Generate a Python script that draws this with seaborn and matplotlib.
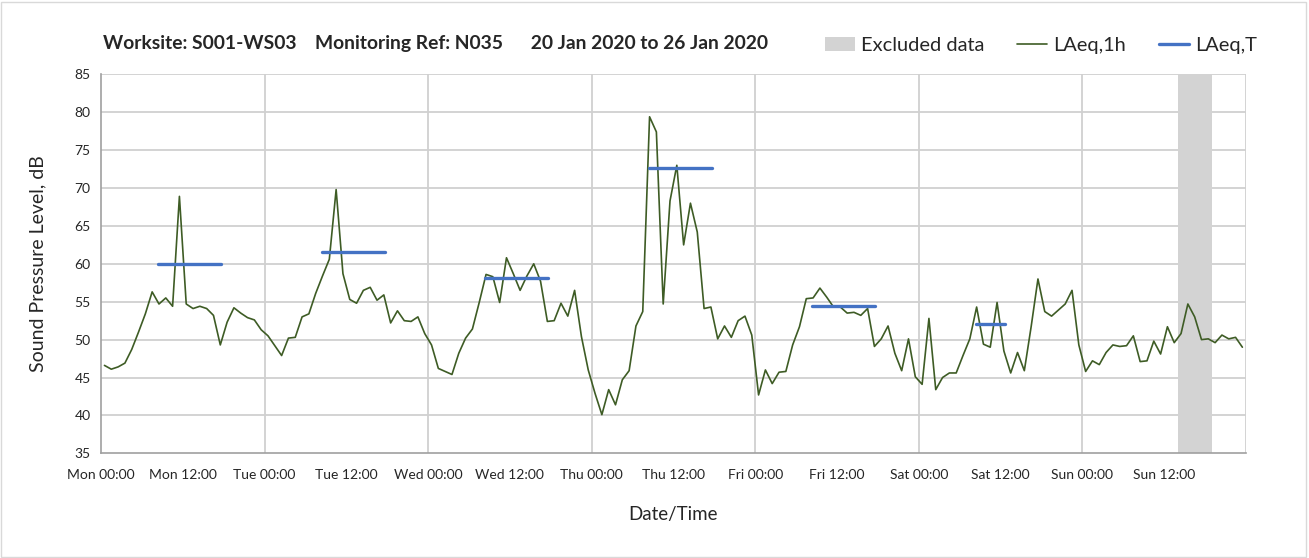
import numpy as np
import pandas as pd
import matplotlib
matplotlib.use("Agg")
import matplotlib.pyplot as plt
from matplotlib.patches import Patch, Rectangle
from matplotlib.lines import Line2D
import seaborn as sns

# hourly LAeq,1h values (dB), Mon 00:00 .. Sun 23:00, plotted at mid-hour
laeq_1h = [
    46.6, 46.1, 46.4, 46.9, 48.7, 51.0, 53.4, 56.3, 54.7, 55.5, 54.4, 68.9,
    54.7, 54.1, 54.4, 54.1, 53.2, 49.3, 52.3, 54.2, 53.5, 52.9, 52.6, 51.3,
    50.5, 49.2, 47.9, 50.2, 50.3, 53.0, 53.4, 56.1, 58.4, 60.6, 69.8, 58.7,
    55.3, 54.8, 56.5, 56.9, 55.2, 55.9, 52.2, 53.8, 52.5, 52.4, 53.0, 50.8,
    49.3, 46.2, 45.8, 45.4, 48.2, 50.2, 51.4, 54.9, 58.6, 58.3, 54.9, 60.8,
    58.7, 56.5, 58.4, 60.0, 57.7, 52.4, 52.5, 54.8, 53.1, 56.5, 50.4, 46.0,
    42.9, 40.1, 43.4, 41.4, 44.7, 45.9, 51.8, 53.7, 79.4, 77.4, 54.7, 68.3,
    73.0, 62.5, 68.0, 64.2, 54.1, 54.3, 50.1, 51.8, 50.3, 52.5, 53.1, 50.6,
    42.7, 46.0, 44.2, 45.7, 45.8, 49.3, 51.7, 55.4, 55.5, 56.8, 55.6, 54.3,
    54.3, 53.5, 53.6, 53.2, 54.1, 49.1, 50.1, 51.8, 48.2, 45.9, 50.1, 45.1,
    44.1, 52.8, 43.4, 45.0, 45.6, 45.6, 47.9, 50.1, 54.3, 49.4, 49.0, 54.9,
    48.5, 45.6, 48.3, 45.9, 51.7, 58.0, 53.7, 53.1, 53.9, 54.7, 56.5, 49.3,
    45.8, 47.2, 46.7, 48.3, 49.3, 49.1, 49.2, 50.5, 47.1, 47.2, 49.8, 48.1,
    51.7, 49.6, 50.8, 54.7, 53.0, 50.0, 50.1, 49.6, 50.6, 50.1, 50.3, 49.0,
]
hours = np.arange(len(laeq_1h)) + 0.5

# LAeq,T periods (start hour, end hour, level)
period_start = [8.4, 32.4, 56.4, 80.4, 104.4, 128.4]
period_end = [17.6, 41.6, 65.6, 89.6, 113.6, 132.6]
period_level = [60.0, 61.5, 58.1, 72.6, 54.4, 52.1]

excluded = (158.0, 163.0)

tick_hours = list(range(0, 169, 12))
tick_labels = ["Mon 00:00", "Mon 12:00", "Tue 00:00", "Tue 12:00", "Wed 00:00",
               "Wed 12:00", "Thu 00:00", "Thu 12:00", "Fri 00:00", "Fri 12:00",
               "Sat 00:00", "Sat 12:00", "Sun 00:00", "Sun 12:00", ""]

sns.set_style("white")
plt.rcParams['font.family'] = ['Lato', 'DejaVu Sans']

fig = plt.figure(figsize=(13.09, 5.58), dpi=100)
ax = fig.add_axes([0.0772, 0.1876, 0.8745, 0.6792])

df = pd.DataFrame({"hour": hours, "LAeq,1h": laeq_1h})

green = "#3e5c25"
blue = "#4472c4"
grid = "#d0d0d0"

ax.axvspan(excluded[0], excluded[1], color="#d3d3d3", lw=0, zorder=1)
sns.lineplot(data=df, x="hour", y="LAeq,1h", color=green, lw=1.2, ax=ax, zorder=3)
for s, e, v in zip(period_start, period_end, period_level):
    ax.plot([s, e], [v, v], color=blue, lw=2.4, zorder=4)

ax.set_xlim(0, 168)
ax.set_ylim(35, 85)
ax.set_yticks(range(35, 86, 5))
ax.set_xticks(tick_hours)
ax.set_xticklabels(tick_labels, fontsize=10)
ax.tick_params(axis="y", labelsize=10)
ax.tick_params(axis="x", pad=7)
ax.tick_params(axis="both", direction="out", length=4, color="#a0a0a0", width=1)
for v in range(40, 86, 5):
    ax.axhline(v, color=grid, lw=1.3, zorder=0)
for h in range(24, 169, 24):
    ax.axvline(h, color=grid, lw=1.3, zorder=0)
for side in ["top", "right"]:
    ax.spines[side].set_visible(False)
for side in ["left", "bottom"]:
    ax.spines[side].set_color("#a0a0a0")
    ax.spines[side].set_linewidth(1.2)

ax.set_xlabel("Date/Time", fontsize=13.5, labelpad=18)
ax.set_ylabel("Sound Pressure Level, dB", fontsize=14, labelpad=20)

fig.text(0.079, 0.922, "Worksite: S001-WS03    Monitoring Ref: N035      20 Jan 2020 to 26 Jan 2020",
         fontsize=13.9, fontweight="bold", va="center")

handles = [Patch(facecolor="#d3d3d3", edgecolor="none"),
           Line2D([], [], color=green, lw=1.2),
           Line2D([], [], color=blue, lw=2.4)]
fig.legend(handles, ["Excluded data", "LAeq,1h", "LAeq,T"], loc="center right",
           bbox_to_anchor=(0.974, 0.919), ncol=3, frameon=False, fontsize=14.4,
           handlelength=1.5, handletextpad=0.3, columnspacing=1.65)

fig.add_artist(Rectangle((0.001, 0.002), 0.997, 0.995, transform=fig.transFigure,
                         fill=False, edgecolor="#d9d9d9", lw=1))

fig.savefig("out.png", dpi=100)
